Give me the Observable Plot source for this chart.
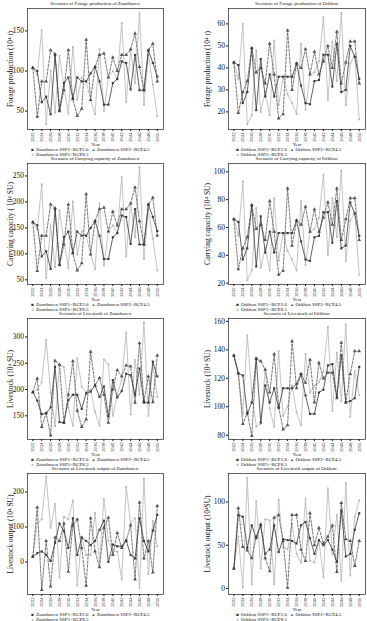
<!DOCTYPE html>
<html><head><meta charset="utf-8">
<script src="https://cdn.jsdelivr.net/npm/d3@7"></script>
<script src="https://cdn.jsdelivr.net/npm/@observablehq/plot@0.6"></script>
<style>
body{margin:0;background:#fff;width:367px;height:621px;position:relative;overflow:hidden;font-family:"Liberation Serif","DejaVu Serif",serif;}
.panel{position:absolute;}
.title{position:absolute;font-size:5px;line-height:6px;text-align:center;white-space:nowrap;color:#111;}
.legend{position:absolute;font-size:5px;line-height:5px;white-space:nowrap;color:#111;}
.legend span.m{display:inline-block;width:5px;text-align:center;margin-right:1px;}
</style></head><body>
<script>
const years = d3.range(2022, 2051);
const xTicks = d3.range(2022, 2051, 2);
const scenarios = ["SSP1−RCP2.6", "SSP2−RCP4.5", "SSP5−RCP8.5"];

// Forage production (10^4 t)
const forageZuun1 = [104,100,61,68,46,120,51,85,92,66,92,87,87,97,105,87,58,58,85,90,112,110,77,120,76,76,126,110,93];
const forageZuun2 = [104,43,87,87,126,121,50,76,126,65,44,53,139,64,105,120,122,92,117,100,120,120,127,147,105,76,126,134,87];
const forageZuun5 = [104,95,151,34,100,48,119,80,47,130,64,92,87,64,46,127,50,92,100,90,160,61,127,85,172,58,120,83,44];
const forageOrk1 = [42.5,41.3,24,29,49,20.8,44,27,37,27,36,36,36,36,42,32,24,23.5,34,34.5,46,46,31.5,51,29,30,50,45,35];
const forageOrk2 = [42.5,19.5,29,34,49,38,40,33,51,37,17,19,57,30,42,40,48.5,37,47.4,37,43,50,40,56.5,33,42.5,52,52,33];
const forageOrk5 = [42.5,35,60,14.4,18.5,48,20,29,18.5,52.4,23,36,28,24,19,51,21,37,38,43,63,25.5,52,34,65,23,42,46,16.5];

// Carrying capacity (10^4 SU)
const carryZuun1 = [161,155,95,105,71,186,79,132,143,102,143,135,135,150,163,135,90,90,132,140,174,171,119,186,118,118,195,171,144];
const carryZuun2 = [161,67,135,135,195,188,78,118,195,101,68,82,215,99,163,186,189,143,181,155,186,186,197,228,163,118,195,208,135];
const carryZuun5 = [161,147,234,53,155,74,184,124,73,201,99,143,135,99,71,197,78,143,155,140,248,95,197,132,267,90,186,129,68];
const carryOrk1 = [66,64,37,45,76,32,68,42,57,42,56,56,56,56,65,50,37,36,53,54,71,71,49,79,45,47,78,70,54];
const carryOrk2 = [66,30,45,53,76,59,62,51,79,57,26,29,88,47,65,62,75,57,73,57,67,78,62,88,51,66,81,81,51];
const carryOrk5 = [66,54,93,22,29,74,31,45,29,81,36,56,43,37,29,79,33,57,59,67,98,40,81,53,101,36,65,71,26];

// Livestock (10^4 SU)
const stockZuun1 = [195,179,153,155,166,243,138,137,180,190,190,163,193,196,208,186,206,149,218,185,197,230,227,190,240,175,175,253,225];
const stockZuun2 = [195,221,129,155,113,255,247,137,190,254,160,129,143,272,208,222,190,137,200,237,225,246,244,175,288,178,225,176,265];
const stockZuun5 = [195,200,214,294,195,130,247,243,166,131,259,205,195,200,158,131,257,248,150,190,218,308,153,256,190,328,150,248,186];
const stockOrk1 = [136,123.5,122,95,103,134,89,115,103,113,99,113,113,113,116,123,108,95,95,110,112,129,130,107,136,103,104,106,128];
const stockOrk2 = [136,123.5,88,96,79.5,133.6,132,126,110,137,100,84,87,146,113,123,117,133,103,131,120,124,124,106,145,103,123,139,139];
const stockOrk5 = [136,123.5,95,150,110,86,88,126,99,86,139,93.5,100,115,96,87,137,110,115,117,125,156,97,138,104,158,93,125,108];

// Livestock output (10^4 SU)
const outZuun1 = [15,25,30,20,3,55,110,88,40,125,20,70,60,48,60,92,118,0,50,45,45,62,20,10,125,60,30,90,135];
const outZuun2 = [15,156,-80,60,-70,70,60,110,-28,105,122,40,-68,125,30,-15,98,127,20,83,40,60,105,-50,170,10,60,-30,160];
const outZuun5 = [15,112,122,244,98,166,-44,129,122,176,-68,73,20,20,141,0,180,60,30,30,-50,215,110,125,-75,238,-35,117,45];
const outOrk1 = [23,85,83,47,73,58,73,40,45,73,42,57,56,55,52,73,77,58,40,56,50,56,45,31,90,37,40,68,87];
const outOrk2 = [23,93,48,44,35,60,74,35,20,82,85,55,1,85,85,45,32,87,50,70,52,60,73,19,99,57,55,26,55];
const outOrk5 = [23,60,1,128,5,101,23,80,79,5,103,48,45,75,40,30,104,32,30,55,13,116,40,85,9,122,15,83,102];

const panels = [
  {region:"Zuunburen", title:"Scenario of Forage production of Zuunburen", ylabel:"Forage production (10⁴ t)", domain:[27,178], yticks:[50,100,150], s:[forageZuun1,forageZuun2,forageZuun5]},
  {region:"Orkhon", title:"Scenario of Forage production of Orkhon", ylabel:"Forage production (10⁴ t)", domain:[12,67], yticks:[20,30,40,50,60], s:[forageOrk1,forageOrk2,forageOrk5]},
  {region:"Zuunburen", title:"Scenario of Carrying capacity of Zuunburen", ylabel:"Carrying capacity ( 10⁴ SU)", domain:[41,274], yticks:[50,100,150,200,250], s:[carryZuun1,carryZuun2,carryZuun5]},
  {region:"Orkhon", title:"Scenario of Carrying capacity of Orkhon", ylabel:"Carrying capacity (10⁴ SU)", domain:[19,106], yticks:[20,40,60,80,100], s:[carryOrk1,carryOrk2,carryOrk5]},
  {region:"Zuunburen", title:"Scenario of Livestock of Zuunburen", ylabel:"Livestock (10⁴ SU)", domain:[105,335], yticks:[150,200,250,300], s:[stockZuun1,stockZuun2,stockZuun5]},
  {region:"Orkhon", title:"Scenario of Livestock of Orkhon", ylabel:"Livestock (10⁴ SU)", domain:[77,162], yticks:[80,100,120,140,160], s:[stockOrk1,stockOrk2,stockOrk5]},
  {region:"Zuunburen", title:"Scenario of Livestock output of Zuunburen", ylabel:"Livestock output (10⁴ SU)", domain:[-93,253], yticks:[0,100,200], s:[outZuun1,outZuun2,outZuun5]},
  {region:"Orkhon", title:"Scenario of Livestock output of Orkhon", ylabel:"Livestock output (10⁴SU)", domain:[-7,133], yticks:[0,50,100], s:[outOrk1,outOrk2,outOrk5]}
];

const styles = [
  {stroke:"#3a3a3a", dash:null, symbol:"square", r:1.2, sym:"■"},
  {stroke:"#555555", dash:"2.5,1.5", symbol:"triangle", r:1.4, sym:"▲"},
  {stroke:"#b5b5b5", dash:null, symbol:"circle", r:1.0, sym:"●"}
];

const FH = 121;
panels.forEach((p, k) => {
  const col = k % 2, row = Math.floor(k / 2);
  const frameTop = 8 + 155 * row;
  const left = col === 0 ? 0 : 183;
  const ML = col === 0 ? 27 : 45;
  const W = col === 0 ? 165 : 184;
  const frameLeft = left + ML, frameW = W - ML - 2;

  const marks = [];
  [2, 1, 0].forEach(j => {
    const st = styles[j];
    marks.push(Plot.lineY(p.s[j], {x: years, stroke: st.stroke, strokeWidth: 0.8, strokeDasharray: st.dash}));
    marks.push(Plot.dot(p.s[j], {x: years, y: d => d, symbol: st.symbol, r: st.r, fill: st.stroke, stroke: "none"}));
  });
  marks.push(Plot.frame({stroke: "#222", strokeWidth: 0.7}));
  marks.push(Plot.axisX({ticks: xTicks, tickFormat: d => String(d), tickRotate: -90, tickSize: 2, tickPadding: 1, fontSize: 4.6,
    label: "Year", labelAnchor: "center", labelArrow: "none", labelOffset: 16}));
  marks.push(Plot.axisY({ticks: p.yticks, tickSize: 2, tickPadding: 1.5, fontSize: 7.5,
    label: p.ylabel, labelAnchor: "center", labelArrow: "none", labelOffset: col === 0 ? 20 : 24}));

  const svg = Plot.plot({
    width: W, height: 1 + FH + 21,
    marginTop: 1, marginBottom: 21, marginLeft: ML, marginRight: 2,
    style: {fontFamily: "Liberation Serif, serif", fontSize: "7px", background: "transparent", color: "#111"},
    x: {domain: [2020.8, 2051.4]},
    y: {domain: p.domain},
    marks
  });
  const wrap = document.createElement("div");
  wrap.className = "panel";
  wrap.style.left = left + "px";
  wrap.style.top = (frameTop - 1) + "px";
  wrap.appendChild(svg);
  document.body.appendChild(wrap);

  const t = document.createElement("div");
  t.className = "title";
  t.style.left = frameLeft + "px";
  t.style.width = frameW + "px";
  t.style.top = (frameTop - 7) + "px";
  t.textContent = p.title;
  document.body.appendChild(t);

  const lx = col === 0 ? 30 : 235;
  const lg = document.createElement("div");
  lg.className = "legend";
  lg.style.left = lx + "px";
  lg.style.top = (frameTop + FH + 18) + "px";
  const item = j => `<span class="m" style="color:${styles[j].stroke};font-size:${j===1?4:4.5}px">${styles[j].sym}</span>${p.region} ${scenarios[j]}`;
  lg.innerHTML = `${item(0)}&nbsp;&nbsp;${item(1)}<br>${item(2)}`;
  document.body.appendChild(lg);
});
</script>
</body></html>
